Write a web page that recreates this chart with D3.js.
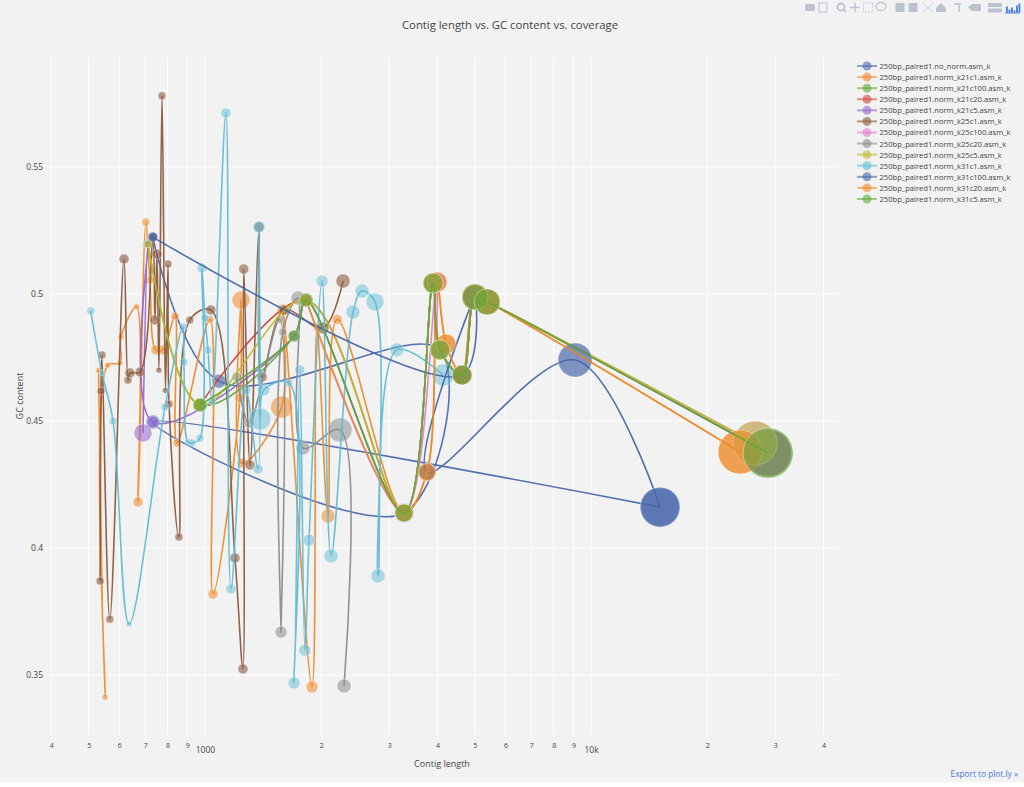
<!DOCTYPE html>
<html><head><meta charset="utf-8">
<script src="https://cdn.jsdelivr.net/npm/d3@7"></script>
<style>
html,body{margin:0;padding:0;background:#fff;}
svg{display:block;}
text{font-family:"Open Sans",sans-serif;fill:#444;}
</style></head>
<body>
<script>
// ---------- DATA ----------
// each point: [contig length (bp), GC content, coverage]
const traceNames = [
  "250bp_paired1.no_norm.asm_k","250bp_paired1.norm_k21c1.asm_k","250bp_paired1.norm_k21c100.asm_k",
  "250bp_paired1.norm_k21c20.asm_k","250bp_paired1.norm_k21c5.asm_k","250bp_paired1.norm_k25c1.asm_k",
  "250bp_paired1.norm_k25c100.asm_k","250bp_paired1.norm_k25c20.asm_k","250bp_paired1.norm_k25c5.asm_k",
  "250bp_paired1.norm_k31c1.asm_k","250bp_paired1.norm_k31c100.asm_k","250bp_paired1.norm_k31c20.asm_k",
  "250bp_paired1.norm_k31c5.asm_k"
];
const no_norm = [[733,0.5224,32],[1087,0.4657,98],[4062,0.478,162],[3278,0.4138,162],[733,0.4496,98],[15090,0.4161,722]];
const k21c1 = [[530,0.4700,18],[551,0.3413,18],[560,0.4720,18],[602,0.4728,18],[606,0.4831,18],[665,0.4950,18],[671,0.4181,50],[703,0.5283,32],[720,0.5055,32],[746,0.478,50],[778,0.478,50],[836,0.4913,32],[846,0.4413,32],[1030,0.4900,32],[1049,0.3819,50],[1232,0.4591,50],[1240,0.4976,162],[1247,0.4335,50],[1580,0.4555,242],[1592,0.4937,72],[1893,0.3453,72],[1950,0.4870,32],[2083,0.4126,98],[2200,0.4900,50],[3278,0.4138,162],[3759,0.4299,162],[3990,0.5047,200],[4210,0.4803,200],[4632,0.4681,200],[5006,0.4988,338],[5378,0.4969,338],[24320,0.4378,968]];
const k21c100 = [[712,0.5197,50],[971,0.4563,98],[1701,0.4835,72],[1827,0.4976,98],[3278,0.4138,162],[3896,0.5043,200],[4062,0.478,200],[4632,0.4681,200],[5006,0.4988,338],[5378,0.4969,338],[28740,0.4374,1250]];
const k21c20 = [[971,0.4563,72],[1827,0.4976,72],[3278,0.4138,162],[3896,0.5043,200],[4062,0.478,200],[4632,0.4681,200],[5006,0.4988,338],[5378,0.4969,338],[28740,0.4374,1100]];
const k21c5 = [[691,0.4453,162],[712,0.5197,32],[733,0.4496,72],[1701,0.4835,50],[1827,0.4976,72],[3278,0.4138,200],[3896,0.5043,162],[4062,0.478,162],[4632,0.4681,200],[5006,0.4988,338],[5378,0.4969,338],[28740,0.4374,1100]];
const k25c1 = [[535,0.3870,32],[538,0.4618,32],[541,0.4760,32],[567,0.3720,32],[617,0.5138,50],[632,0.4661,32],[639,0.4689,50],[679,0.4693,50],[733,0.5224,32],[742,0.4898,50],[751,0.5157,50],[760,0.4700,18],[774,0.5780,32],[790,0.4620,18],[802,0.5118,32],[807,0.4567,32],[856,0.4043,32],[914,0.4898,32],[1036,0.4937,50],[1196,0.3961,50],[1254,0.3524,50],[1260,0.5098,50],[1308,0.4327,50],[1380,0.5264,50],[1405,0.4673,50],[1602,0.4937,50],[2022,0.4866,72],[2278,0.5051,98]];
const k25c100 = [[1827,0.4976,72],[3278,0.4138,162],[3990,0.5047,200],[4062,0.478,162],[4632,0.4681,200],[5006,0.4988,338],[5378,0.4969,338],[26600,0.4413,968]];
const k25c20 = [[1210,0.4673,50],[1300,0.4492,50],[1560,0.4900,32],[1574,0.3669,72],[1590,0.4850,32],[1741,0.4984,98],[1794,0.4394,98],[2237,0.4465,288],[2292,0.3457,98]];
const k25c5 = [[712,0.5197,32],[971,0.4563,98],[1827,0.4976,72],[3278,0.4138,162],[3896,0.5043,200],[4062,0.478,200],[4632,0.4681,200],[5006,0.4988,338],[5378,0.4969,338],[26600,0.4413,968]];
const k31c1 = [[506,0.4933,32],[541,0.4689,18],[578,0.4500,32],[636,0.3701,18],[788,0.4555,32],[877,0.4870,32],[882,0.4732,32],[903,0.4417,18],[925,0.4413,32],[971,0.4433,32],[982,0.5102,50],[1000,0.4906,32],[1018,0.4780,32],[1043,0.4579,32],[1133,0.5713,50],[1168,0.3839,50],[1277,0.4622,50],[1372,0.4311,50],[1380,0.5264,72],[1388,0.4508,242],[1421,0.4622,72],[1650,0.4650,32],[1701,0.3469,72],[1760,0.4701,50],[1815,0.3598,72],[1860,0.4031,72],[2010,0.5051,72],[2121,0.3969,98],[2418,0.4929,98],[2551,0.5012,98],[2757,0.4969,162],[2807,0.3890,98],[3140,0.4780,98],[4137,0.4681,242]];
const k31c100 = [[733,0.5224,50],[4632,0.4681,162],[5006,0.4988,288],[3759,0.4299,128],[9090,0.474,578],[15090,0.4161,800]];
const k31c20 = [[1827,0.4976,72],[3278,0.4138,162],[3759,0.4299,162],[3990,0.5047,200],[4210,0.4803,200],[4632,0.4681,200],[5006,0.4988,338],[5378,0.4969,338],[24320,0.4378,968]];
const k31c5 = [[971,0.4563,98],[1701,0.4835,72],[1827,0.4976,98],[3278,0.4138,162],[3896,0.5043,200],[4062,0.478,200],[4632,0.4681,200],[5006,0.4988,338],[5378,0.4969,338],[28740,0.4374,1250]];
const traceData = [no_norm,k21c1,k21c100,k21c20,k21c5,k25c1,k25c100,k25c20,k25c5,k31c1,k31c100,k31c20,k31c5];

const xTickVals = [400,500,600,700,800,900,1000,2000,3000,4000,5000,6000,7000,8000,9000,10000,20000,30000,40000];
const xTickLabels = ["4","5","6","7","8","9","1000","2","3","4","5","6","7","8","9","10k","2","3","4"];
const yTickVals = [0.35,0.4,0.45,0.5,0.55];
const yTickLabels = ["0.35","0.4","0.45","0.5","0.55"];

// ---------- STYLE ----------
const palette = ["#4a69b0","#ee8a2a","#62a83a","#d2473a","#9566cf","#8b5a3e","#e07fd0","#8c8c8c","#bcbd2a","#62bcd4","#4766a8","#ee8a2a","#62a83a"];
const markerOpacity = [0.62,0.55,0.55,0.55,0.55,0.6,0.55,0.55,0.55,0.5,0.68,0.55,0.55];
const W = 1024, H = 782;
const L = 46, R = 838, T = 57, B = 735;

const svg = d3.select("body").append("svg").attr("width", W).attr("height", H);
svg.append("rect").attr("width", W).attr("height", H).attr("fill", "#f2f2f2");

const x = d3.scaleLog().domain([387.5, 43600]).range([L, R]);
const y = d3.scaleLinear().domain([0.3264, 0.5933]).range([B, T]);
const r = d3.scaleSqrt().domain([0, 1250]).range([0, 25]);

const grid = svg.append("g");
grid.selectAll(".gx").data(xTickVals).join("line")
  .attr("x1", d => x(d)).attr("x2", d => x(d)).attr("y1", T).attr("y2", B)
  .attr("stroke", "#fff").attr("stroke-width", 1);
grid.selectAll(".gy").data(yTickVals).join("line")
  .attr("x1", L).attr("x2", R).attr("y1", d => y(d)).attr("y2", d => y(d))
  .attr("stroke", "#fff").attr("stroke-width", 1);

const xAxis = d3.axisBottom(x).tickValues(xTickVals).tickSize(0).tickFormat((d, i) => xTickLabels[i]);
const gx = svg.append("g").attr("transform", `translate(0,${B})`).call(xAxis);
gx.select(".domain").remove();
gx.selectAll("text").attr("fill", "#444").style("font-family", '"Open Sans",sans-serif')
  .attr("y", (d, i) => (xTickLabels[i].length > 1 ? 12 : 8))
  .style("font-size", (d, i) => (xTickLabels[i].length > 1 ? "8.5px" : "7px"));

const yAxis = d3.axisLeft(y).tickValues(yTickVals).tickSize(0).tickFormat((d, i) => yTickLabels[i]);
const gy = svg.append("g").attr("transform", `translate(${L - 3},0)`).call(yAxis);
gy.select(".domain").remove();
gy.selectAll("text").attr("fill", "#444").style("font-family", '"Open Sans",sans-serif').style("font-size", "8.5px").attr("x", 0);

svg.append("clipPath").attr("id", "clip").append("rect").attr("x", L).attr("y", T).attr("width", R - L).attr("height", B - T);
const plot = svg.append("g").attr("clip-path", "url(#clip)");

const line = d3.line().x(d => x(d[0])).y(d => y(d[1])).curve(d3.curveCatmullRom.alpha(0.5));

traceData.forEach((data, i) => {
  const g = plot.append("g");
  g.append("path").datum(data).attr("d", line).attr("fill", "none")
    .attr("stroke", palette[i]).attr("stroke-width", 1.6).attr("stroke-opacity", 0.95);
  g.selectAll("circle").data(data).join("circle")
    .attr("cx", d => x(d[0])).attr("cy", d => y(d[1])).attr("r", d => r(d[2]))
    .attr("fill", palette[i]).attr("fill-opacity", markerOpacity[i])
    .attr("stroke", "#ffffff").attr("stroke-opacity", 0.35).attr("stroke-width", 1);
});

svg.append("text").attr("x", 510).attr("y", 29).attr("text-anchor", "middle").style("font-size", "11.3px")
  .text("Contig length vs. GC content vs. coverage");
svg.append("text").attr("x", (L + R) / 2).attr("y", 767).attr("text-anchor", "middle").style("font-size", "9px")
  .text("Contig length");
svg.append("text").attr("transform", `translate(23,${(T + B) / 2}) rotate(-90)`).attr("text-anchor", "middle").style("font-size", "9px")
  .text("GC content");

const lg = svg.append("g").attr("transform", "translate(857,66)");
traceNames.forEach((name, i) => {
  const row = lg.append("g").attr("transform", `translate(0,${i * 11.08})`);
  row.append("line").attr("x1", 0).attr("x2", 20).attr("y1", 0).attr("y2", 0)
    .attr("stroke", palette[i]).attr("stroke-width", 2).attr("stroke-opacity", 0.6);
  row.append("circle").attr("cx", 10).attr("cy", 0).attr("r", 4.5).attr("fill", palette[i]).attr("fill-opacity", 0.6);
  row.append("text").attr("x", 22.5).attr("y", 3).style("font-size", "7.6px").text(name);
});

svg.append("text").attr("x", 1018).attr("y", 777).attr("text-anchor", "end").style("font-size", "8.3px")
  .style("fill", "#447adb").text("Export to plot.ly \u00bb");

// modebar (simple glyphs)
const mb = svg.append("g").attr("fill", "#bcc3d0").attr("stroke", "#bcc3d0");
const mx = [810, 823, 842, 855, 868, 881, 900, 913, 928, 941, 958, 975, 995];
mb.append("rect").attr("x", mx[0] - 5).attr("y", 4).attr("width", 10).attr("height", 7).attr("rx", 1.5).attr("stroke", "none");
mb.append("rect").attr("x", mx[1] - 4).attr("y", 3).attr("width", 8).attr("height", 9).attr("fill", "none");
mb.append("circle").attr("cx", mx[2] - 1).attr("cy", 7).attr("r", 3.5).attr("fill", "none").attr("stroke-width", 1.8);
mb.append("path").attr("d", `M${mx[2]+1.5},9.5L${mx[2]+4},12`).attr("stroke-width", 1.8);
mb.append("path").attr("d", `M${mx[3]-5},7.5H${mx[3]+5}M${mx[3]},2.5V12.5`).attr("fill", "none").attr("stroke-width", 1.3);
mb.append("rect").attr("x", mx[4] - 4.5).attr("y", 3).attr("width", 9).attr("height", 9).attr("fill", "none").attr("stroke-dasharray", "1.5,1.5");
mb.append("ellipse").attr("cx", mx[5]).attr("cy", 6.5).attr("rx", 5).attr("ry", 4).attr("fill", "none").attr("stroke-width", 1.3);
mb.append("rect").attr("x", mx[6] - 4.5).attr("y", 3).attr("width", 9).attr("height", 9).attr("stroke", "none");
mb.append("rect").attr("x", mx[7] - 4.5).attr("y", 3).attr("width", 9).attr("height", 9).attr("stroke", "none");
mb.append("path").attr("d", `M${mx[8]-5},3L${mx[8]+5},12M${mx[8]+5},3L${mx[8]-5},12`).attr("fill", "none").attr("stroke-dasharray", "2,1");
mb.append("path").attr("d", `M${mx[9]-5},8L${mx[9]},3L${mx[9]+5},8V12H${mx[9]-5}Z`).attr("stroke", "none");
mb.append("path").attr("d", `M${mx[10]-4},4H${mx[10]+3}M${mx[10]+1},4V12`).attr("fill", "none").attr("stroke-width", 1.5);
mb.append("path").attr("d", `M${mx[11]-7},7.5L${mx[11]-3},4H${mx[11]+6}V11H${mx[11]-3}Z`).attr("stroke", "none");
mb.append("rect").attr("x", mx[12] - 7).attr("y", 3).attr("width", 14).attr("height", 4).attr("rx", 1).attr("stroke", "none");
mb.append("rect").attr("x", mx[12] - 7).attr("y", 8.5).attr("width", 14).attr("height", 4).attr("rx", 1).attr("stroke", "none");
const bars = svg.append("g").attr("fill", "#447adb");
[[0,6],[2.5,3],[5,5],[7.5,2],[10,7],[12.5,9]].forEach(b => {
  bars.append("rect").attr("x", 1006 + b[0]).attr("y", 12.5 - b[1]).attr("width", 1.8).attr("height", b[1]);
});
bars.append("rect").attr("x", 1005).attr("y", 12.5).attr("width", 15).attr("height", 1);
</script>
</body></html>
